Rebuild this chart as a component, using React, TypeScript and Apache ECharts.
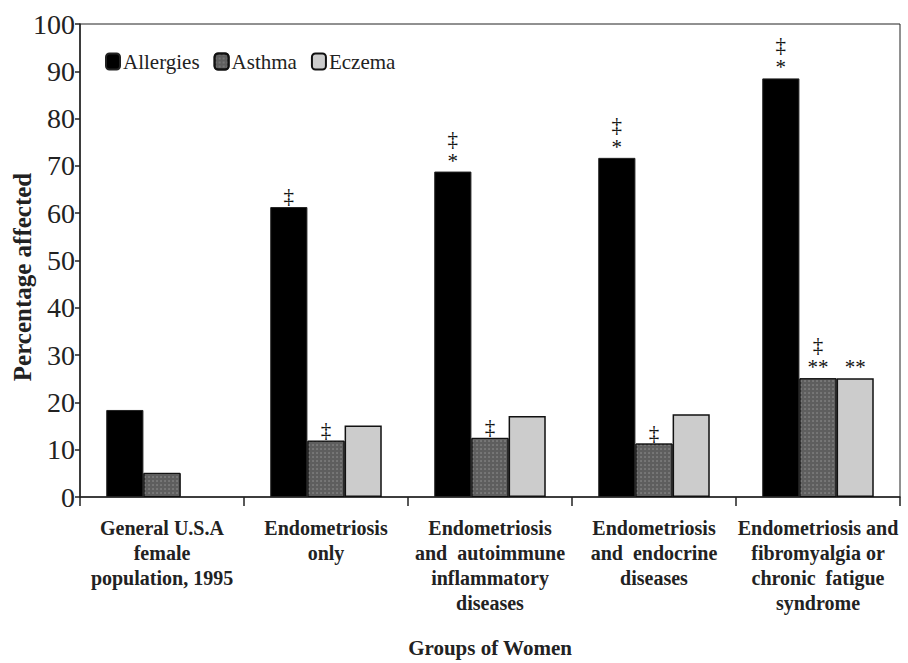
import React, { useEffect, useRef } from "react";
import * as echarts from "echarts";

const categories = [
  "General U.S.A\nfemale\npopulation, 1995",
  "Endometriosis\nonly",
  "Endometriosis\nand  autoimmune\ninflammatory\ndiseases",
  "Endometriosis\nand  endocrine\ndiseases",
  "Endometriosis and\nfibromyalgia or\nchronic  fatigue\nsyndrome",
];
const allergies = [18.4, 61.3, 68.8, 71.7, 88.5];
const asthma = [5.1, 11.9, 12.5, 11.3, 25.1];
const eczema: (number | null)[] = [null, 15.1, 17.1, 17.5, 25.1];
const allergiesMarks = ["", "‡", "‡\n*", "‡\n*", "‡\n*"];
const asthmaMarks = ["", "‡", "‡", "‡", "‡\n**"];
const eczemaMarks = ["", "", "", "", "**"];
const yTicks = [0, 10, 20, 30, 40, 50, 60, 70, 80, 90, 100];

const SERIF = "Liberation Serif";

export default function App() {
  const ref = useRef<HTMLDivElement>(null);
  useEffect(() => {
    document.body.style.margin = "0";
    if (!ref.current) return;
    const chart = echarts.init(ref.current, undefined, { renderer: "svg" });
    const markLabel = (marks: string[]) => ({
      show: true,
      position: "top" as const,
      distance: 0,
      fontFamily: SERIF,
      fontSize: 21,
      lineHeight: 22,
      color: "#111",
      formatter: (p: any) => marks[p.dataIndex] || "",
    });
    chart.setOption({
      animation: false,
      backgroundColor: "#fff",
      grid: {
        left: 80,
        right: 8,
        top: 24,
        bottom: 166,
        outerBoundsMode: "none",
        containLabel: false,
        show: true,
        borderColor: "#222",
        borderWidth: 1,
      },
      legend: {
        left: 100,
        top: 46,
        itemWidth: 14,
        itemHeight: 16,
        itemGap: 14,
        textStyle: { fontFamily: SERIF, fontSize: 21, color: "#222", padding: [0, 0, 0, -2] },
        data: ["Allergies", "Asthma", "Eczema"],
      },
      graphic: [
        {
          type: "text",
          x: 10,
          y: 277,
          rotation: Math.PI / 2,
          style: {
            text: "Percentage affected",
            fontFamily: SERIF,
            fontSize: 25,
            fontWeight: "bold",
            fill: "#222",
            align: "center",
            verticalAlign: "top",
          },
        },
      ],
      xAxis: {
        type: "category",
        data: categories,
        name: "Groups of Women",
        nameLocation: "middle",
        nameGap: 140,
        nameTextStyle: { fontFamily: SERIF, fontSize: 21, fontWeight: "bold", color: "#222" },
        axisLine: { lineStyle: { color: "#222", width: 1.5 } },
        axisTick: { show: true, length: 9, lineStyle: { color: "#222", width: 1.5 } },
        axisLabel: {
          interval: 0,
          margin: 18,
          fontFamily: SERIF,
          fontSize: 20,
          fontWeight: "bold",
          lineHeight: 25,
          color: "#222",
        },
      },
      yAxis: {
        type: "value",
        min: 0,
        max: 100,
        interval: 10,
        axisLine: { show: true, lineStyle: { color: "#222", width: 1.5 } },
        axisTick: { show: true, length: 5, lineStyle: { color: "#222", width: 1.5 } },
        splitLine: { show: false },
        axisLabel: {
          margin: 5,
          fontFamily: SERIF,
          fontSize: 28,
          color: "#222",
          formatter: (v: number) => (yTicks.includes(v) ? String(v) : ""),
        },
      },
      series: [
        {
          name: "Allergies",
          type: "bar",
          data: allergies,
          barGap: "0%",
          barCategoryGap: "32%",
          itemStyle: { color: "#000", borderColor: "#222", borderWidth: 1 },
          label: markLabel(allergiesMarks),
        },
        {
          name: "Asthma",
          type: "bar",
          data: asthma,
          itemStyle: {
            color: "#5e5e5e",
            borderColor: "#111",
            borderWidth: 1,
            decal: {
              symbol: "circle",
              symbolSize: 0.7,
              color: "rgba(200,200,200,0.55)",
              dashArrayX: [2, 2],
              dashArrayY: [2, 2],
              rotation: 0,
            },
          },
          label: markLabel(asthmaMarks),
        },
        {
          name: "Eczema",
          type: "bar",
          data: eczema,
          itemStyle: { color: "#cccccc", borderColor: "#111", borderWidth: 1.5 },
          label: markLabel(eczemaMarks),
        },
      ],
    });
    return () => chart.dispose();
  }, []);
  return <div ref={ref} style={{ width: 908, height: 663 }} />;
}
